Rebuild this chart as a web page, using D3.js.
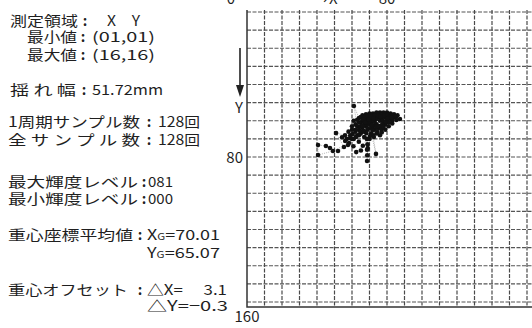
<!DOCTYPE html>
<html>
<head>
<meta charset="utf-8">
<script src="https://cdn.jsdelivr.net/npm/d3@7"></script>
<style>
  body { margin: 0; background: #fff; }
  svg { display: block; }
</style>
</head>
<body>
<script>
// info panel text
const infoLabels = ["測定領域", "最小値", "最大値", "揺 れ 幅", "1周期サンプル数", "全 サ ン プ ル 数",
  "最大輝度レベル", "最小輝度レベル", "重心座標平均値", "", "重心オフセット", ""];
const infoValues = ["X　Y", "(01,01)", "(16,16)", "51.72mm", "128回", "128回",
  "081", "000", "X|G|=70.01", "Y|G|=65.07", "△X=　 3.1", "△Y=−0.3"];

// axis labels
const xTickLabels = ["0", "80"];
const yTickLabels = ["80", "160"];
const gridTicks = d3.range(0, 161, 10);

// sway trajectory samples (x, y) in measurement units, Y grows downward
const swayPoints = [
  [70,58],[72,57],[74,56],[76,56.5],[78,56],[80,56],[82,56.5],[79,58],[77,59],[75,58],
  [73,60],[71,61],[69,60],[67,59],[65,61],[63,63],[61.1,51.9],[64,58.5],[66,57],[68,56.5],
  [70,56],[72,56],[74,55.5],[76,55.5],[78,55.5],[80,55.5],[82,56],[84,56.5],[86,57],[87.4,59],
  [84,58],[82,59],[80,60],[78,61],[76,60],[74,62],[72,63],[70,62],[68,63],[66,64],
  [64,65],[62,66],[60,65],[58,66],[56,68],[50.9,66.8],[55.4,74.5],[52,76.7],[47.4,75],[45.1,73.9],
  [40.6,73.4],[40.6,78.9],[49.1,76.7],[58.3,72.3],[61,70],[63,68],[65,67],[67,66],[69,65],[71,64],
  [73,65],[75,64],[77,63],[79,62],[81,61],[83,60],[85,58],[83,57.5],[81,58],[79,57],
  [77,57],[75,57],[73,58],[71,59],[69,62],[68.5,70],[68.8,73],[68.6,76],[68.7,79],[68.6,82.2],
  [69,75],[70,70],[71,67],[73.7,78.3],[72,68],[67,69],[64,68],[60,70],[57,70],[59,68],
  [62,65],[65,63],[67,62],[69,58],[71,57],[73,57],[75,56],[77,56.5],[79,56.5],[81,56.5],
  [83,57],[80,57],[76,58],[74,59],[72,60],[70,61],[68,61],[66,60],[64,61],[62,62],
  [60,63],[61,60],[63,59.5],[65,58],[67,58],[69,57],
  [66.3,59.4],[70.8,57.6],[73.4,61.7],[77.6,59.8],[81.2,57.9],[84.6,57.6],[75.1,62.8],[71.7,65.4],
  [68.2,66.9],[64.7,66.1],[62.3,68.9],[60.4,67.3],[58.9,69.6],[56.1,71.2],[54.3,69.1],[57.7,73.4],
  [60.8,74.1],[63.9,71.6],[66.2,73.8],[65.1,76.4],[62.4,77.3],[70.3,68.4],[74.6,66.2],[76.8,64.7],
  [79.3,60.4],[82.7,58.2],[85.3,59.6],[78.1,57.2],[74.9,57.3],[72.2,58.9],[69.6,59.3],[67.4,60.8],
  [65.8,62.7],[71.4,62.3],[73.9,63.4],[77.2,62.1],[80.4,58.9],[76.3,57.6],[68.9,64.4],[66.7,65.7],
  [74,67],[77,66.5],[79,65],[76,68],[72.5,69],[78,63.5],[81,63],[83,61.5]
];

const W = 532, H = 328;
const svg = d3.select("body").append("svg").attr("width", W).attr("height", H);
svg.append("rect").attr("width", W).attr("height", H).attr("fill", "#fff");

const font = "'Noto Sans CJK JP', 'Noto Sans', sans-serif";
const ink = "#1f1f1f";
const fs = 14;

const x = d3.scaleLinear().domain([0, 160]).range([247, 527]);
const y = d3.scaleLinear().domain([0, 160]).range([12, 302]);
const frameBottom = 307;

// grid
const grid = svg.append("g").attr("stroke", "#555").attr("stroke-width", 1.2)
  .attr("stroke-dasharray", "4,1.5");
grid.selectAll("line.h").data(gridTicks).join("line").attr("class", "h")
  .attr("x1", x(0)).attr("x2", W).attr("y1", d => y(d)).attr("y2", d => y(d));
grid.selectAll("line.v").data(gridTicks.slice(1)).join("line").attr("class", "v")
  .attr("y1", y(0) - 2).attr("y2", frameBottom).attr("x1", d => x(d)).attr("x2", d => x(d))
  .attr("stroke", "#4a4a4a");

// frame left + bottom
svg.append("path")
  .attr("d", `M${x(0)},${y(0) - 2}V${frameBottom}H${W}`)
  .attr("fill", "none").attr("stroke", "#333").attr("stroke-width", 1.5);

// axis labels (top ones are cut by the page edge, as in the source)
const axisText = (tx, ty, anchor, s) => svg.append("text").attr("x", tx).attr("y", ty)
  .attr("text-anchor", anchor).attr("font-family", font).attr("font-size", 15)
  .attr("fill", ink).text(s);
axisText(x(0) - 12, 4, "end", xTickLabels[0]);
axisText(x(80), 4, "middle", xTickLabels[1]);
axisText(x(45), 4, "middle", "→X");
axisText(x(0) - 4, y(80) + 6, "end", yTickLabels[0]);
axisText(x(0), 322, "middle", yTickLabels[1]);

// Y arrow
svg.append("line").attr("x1", 240).attr("x2", 240).attr("y1", 48).attr("y2", 88)
  .attr("stroke", "#222").attr("stroke-width", 1.6);
svg.append("path").attr("d", "M236,85L244,85L240,97Z").attr("fill", "#222");
axisText(239, 113, "middle", "Y");

// trajectory
svg.append("path").datum(swayPoints)
  .attr("fill", "none").attr("stroke", "#777").attr("stroke-width", 0.5)
  .attr("stroke-dasharray", "1,1")
  .attr("d", d3.line().x(d => x(d[0])).y(d => y(d[1])));
svg.append("g").selectAll("circle").data(swayPoints).join("circle")
  .attr("cx", d => x(d[0])).attr("cy", d => y(d[1])).attr("r", 2.3)
  .attr("fill", "#111");

// info panel
const baselines = [26, 42, 60, 95, 127, 145, 187, 204, 240, 258, 295, 311];
const labelX = [10, 27, 27, 10, 8, 8, 8, 8, 8, 8, 8, 8];
const labelW = [68, 50, 50, 66, 132, 132, 130, 130, 125, 0, 120, 0];
const colonX = [85, 83, 83, 84, 149, 149, 144, 144, 140, 0, 140, 0];
const valueX = [107, 92, 92, 92, 158, 158, 148, 148, 147, 147, 147, 147];
const valueW = [33, 63, 63, 71, 42, 42, 25, 25, 73, 73, 80, 81];

const info = svg.append("g").attr("font-family", font).attr("font-size", fs).attr("fill", ink);
infoLabels.forEach((lab, i) => {
  if (lab) {
    info.append("text").attr("x", labelX[i]).attr("y", baselines[i])
      .attr("textLength", labelW[i]).attr("lengthAdjust", "spacingAndGlyphs").text(lab);
    info.append("text").attr("x", colonX[i]).attr("y", baselines[i])
      .attr("text-anchor", "middle").attr("font-weight", "bold").text(":");
  }
  const t = info.append("text").attr("x", valueX[i]).attr("y", baselines[i])
    .attr("textLength", valueW[i]).attr("lengthAdjust", "spacingAndGlyphs");
  infoValues[i].split("|").forEach((part, k) => {
    t.append("tspan").attr("font-size", k === 1 ? 9 : fs).text(part);
  });
});
</script>
</body>
</html>
